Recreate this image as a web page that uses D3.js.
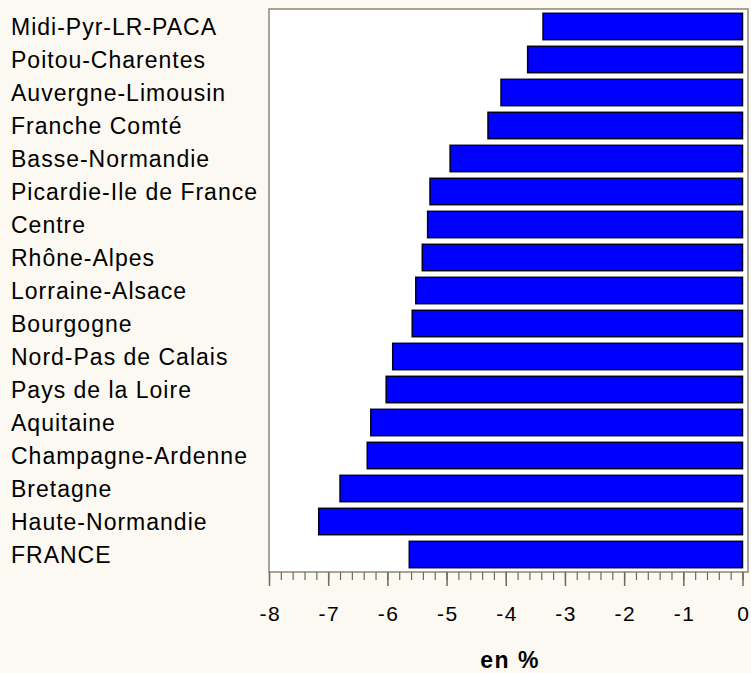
<!DOCTYPE html>
<meta charset="utf-8">
<script src="https://d3js.org/d3.v7.min.js"></script>
<style>
  body { margin: 0; background: #fcf9f2; }
  text { font-family: "Liberation Sans", Arial, sans-serif; }
</style>
<body>
<div id="my_dataviz"></div>
<script>

// regions, top to bottom
var regions = ["Midi-Pyr-LR-PACA", "Poitou-Charentes", "Auvergne-Limousin", "Franche Comté",
  "Basse-Normandie", "Picardie-Ile de France", "Centre", "Rhône-Alpes", "Lorraine-Alsace",
  "Bourgogne", "Nord-Pas de Calais", "Pays de la Loire", "Aquitaine", "Champagne-Ardenne",
  "Bretagne", "Haute-Normandie", "FRANCE"];

// change, en %
var values = [-3.37, -3.63, -4.08, -4.30, -4.94, -5.28, -5.32, -5.41, -5.52,
  -5.58, -5.91, -6.02, -6.28, -6.34, -6.80, -7.16, -5.63];

var xTicks = [-8, -7, -6, -5, -4, -3, -2, -1, 0];

var W = 751, H = 673;
var plot = { left: 269, right: 748, top: 9, bottom: 572 };

var svg = d3.select("#my_dataviz")
  .append("svg")
  .attr("width", W)
  .attr("height", H);

var x = d3.scaleLinear()
  .domain([-8, 0])
  .range([plot.left, 742.5]);

var y = d3.scaleBand()
  .domain(regions)
  .range([plot.top, plot.bottom])
  .paddingInner(0.2)
  .paddingOuter(0.13);

// plot area
svg.append("rect")
  .attr("x", plot.left)
  .attr("y", plot.top)
  .attr("width", plot.right - plot.left)
  .attr("height", plot.bottom - plot.top)
  .attr("fill", "#ffffff")
  .attr("stroke", "#8a8678")
  .attr("stroke-width", 1.5);

// bars
svg.append("g")
  .selectAll("rect")
  .data(values)
  .enter()
  .append("rect")
  .attr("x", function(d) { return x(d); })
  .attr("y", function(d, i) { return y(regions[i]); })
  .attr("width", function(d) { return x(0) - x(d); })
  .attr("height", y.bandwidth())
  .attr("fill", "#0000ff")
  .attr("stroke", "#000022")
  .attr("stroke-width", 1.5);

// category labels
svg.append("g")
  .selectAll("text")
  .data(regions)
  .enter()
  .append("text")
  .attr("x", 11)
  .attr("y", function(d) { return y(d) + y.bandwidth() / 2; })
  .attr("dy", "0.36em")
  .attr("font-size", "23px")
  .attr("letter-spacing", "1px")
  .attr("fill", "#000")
  .text(function(d) { return d; });

// minor ticks
var minor = d3.range(0, 41).map(function(i) { return -8 + i * 0.2; });
svg.append("g")
  .attr("transform", "translate(0," + plot.bottom + ")")
  .call(d3.axisBottom(x).tickValues(minor).tickSize(8).tickFormat(""))
  .call(function(g) {
    g.select(".domain").remove();
    g.selectAll("line").attr("stroke", "#6e6a5e").attr("stroke-width", 1.2);
  });

// major ticks
svg.append("g")
  .attr("transform", "translate(0," + plot.bottom + ")")
  .call(d3.axisBottom(x).tickValues(xTicks).tickSize(14).tickPadding(20)
    .tickFormat(function(d) { return d; }))
  .call(function(g) {
    g.select(".domain").remove();
    g.selectAll("line").attr("stroke", "#6e6a5e").attr("stroke-width", 1.5);
    g.selectAll("text").attr("font-size", "21px").attr("fill", "#000")
      .attr("letter-spacing", "1.5px").attr("dx", "0.75px")
      .attr("font-family", "Liberation Sans, Arial, sans-serif");
  });

// axis title
svg.append("text")
  .attr("x", 510)
  .attr("y", 668)
  .attr("text-anchor", "middle")
  .attr("font-size", "23px")
  .attr("font-weight", "bold")
  .attr("letter-spacing", "1.5px")
  .text("en %");

</script>
</body>
